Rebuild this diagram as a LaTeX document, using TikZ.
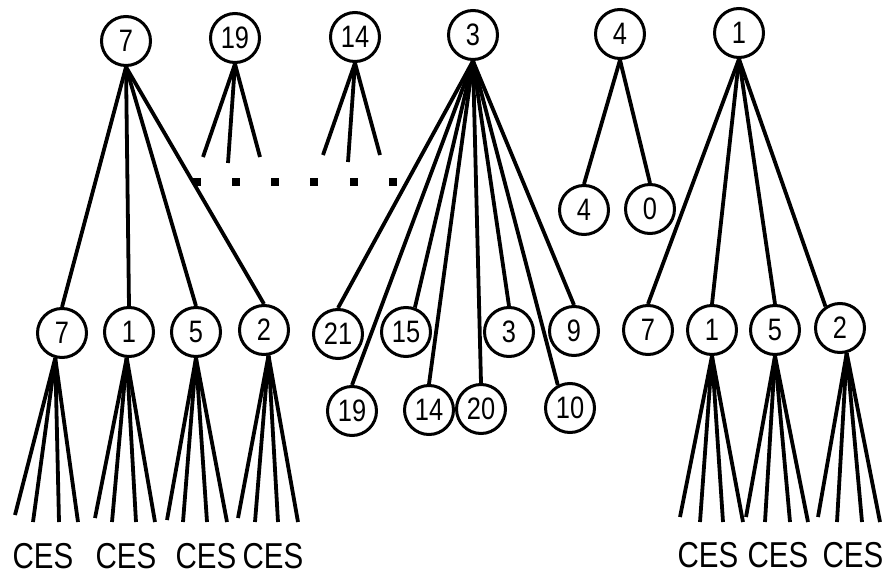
\documentclass[tikz,border=0pt]{standalone}
\usepackage{fontspec}
\newfontfamily\narrowsans{Liberation Sans}[FakeStretch=0.82]
\begin{document}
\begin{tikzpicture}[x=1pt,y=-1pt,
  nd/.style={circle,draw,line width=3pt,minimum size=49pt,inner sep=0pt,
    font=\narrowsans\fontsize{31}{31}\selectfont},
  edge/.style={line width=3.8pt},
  ces/.style={font=\narrowsans\fontsize{36}{36}\selectfont,inner sep=0pt}]
\useasboundingbox (0,0) rectangle (891,578);
% top row
\node[nd] (t7) at (126,41) {7};
\node[nd] (t19) at (235,38) {19};
\node[nd] (t14) at (355,37) {14};
\node[nd] (t3) at (473,35) {3};
\node[nd] (t4) at (620,34) {4};
\node[nd] (t1) at (739,33) {1};
% children of 4
\node[nd] (f4) at (584,210) {4};
\node[nd] (f0) at (650,209) {0};
% children of left 7
\node[nd] (a7) at (62,333) {7};
\node[nd] (a1) at (129,332) {1};
\node[nd] (a5) at (196,332) {5};
\node[nd] (a2) at (264,330) {2};
% children of 3
\node[nd] (m21) at (338,334) {21};
\node[nd] (m15) at (406,332) {15};
\node[nd] (m3) at (509,332) {3};
\node[nd] (m9) at (574,331) {9};
\node[nd] (m19) at (352,411) {19};
\node[nd] (m14) at (429,410) {14};
\node[nd] (m20) at (481,409) {20};
\node[nd] (m10) at (570,408) {10};
% children of right 1
\node[nd] (b7) at (648,330) {7};
\node[nd] (b1) at (712,330) {1};
\node[nd] (b5) at (775,330) {5};
\node[nd] (b2) at (840,328) {2};
% CES labels
\node[ces] (c1) at (43,556) {CES};
\node[ces] (c2) at (126,556) {CES};
\node[ces] (c3) at (206,556) {CES};
\node[ces] (c4) at (273,556) {CES};
\node[ces] (c5) at (708,555) {CES};
\node[ces] (c6) at (778,555) {CES};
\node[ces] (c7) at (853,555) {CES};
% edges
\foreach \c in {a7,a1,a5,a2} \draw[edge] (t7.south) -- (\c.north);
\foreach \c in {m21,m19,m14,m20,m3,m9} \draw[edge] (t3.south) -- (\c.north);
\draw[edge] (t3.south) -- (m15.70);
\draw[edge] (t3.south) -- (m10.118);
\draw[edge] (t4.south) -- (f4.north);
\draw[edge] (t4.south) -- (f0.north);
\foreach \c in {b7,b1,b5} \draw[edge] (t1.south) -- (\c.north);
\draw[edge] (t1.south) -- (b2.124);
% partial fans of 19 and 14
\foreach \p in {(203,157),(228,163),(260,157)} \draw[edge] (t19.south) -- \p;
\foreach \p in {(323,155),(348,162),(380,155)} \draw[edge] (t14.south) -- \p;
% dotted row
\foreach \x in {197,236,275,314,354,393} \fill (\x-4,178) rectangle (\x+4,186);
% CES fans
\foreach \x/\y in {15/515,33/522,59/522,78/522} \draw[edge] (a7.255) -- (\x,\y);
\foreach \x/\y in {95/518,112/522,136/522,155/522} \draw[edge] (a1.265) -- (\x,\y);
\foreach \x/\y in {167/520,183/522,207/522,227/522} \draw[edge] (a5.south) -- (\x,\y);
\foreach \x/\y in {238/518,255/522,278/522,298/522} \draw[edge] (a2.280) -- (\x,\y);
\foreach \x/\y in {680/517,700/522,723/522,743/522} \draw[edge] (b1.south) -- (\x,\y);
\foreach \x/\y in {746/517,765/522,790/522,808/522} \draw[edge] (b5.south) -- (\x,\y);
\foreach \x/\y in {818/517,837/522,862/522,880/522} \draw[edge] (b2.285) -- (\x,\y);
\end{tikzpicture}
\end{document}
